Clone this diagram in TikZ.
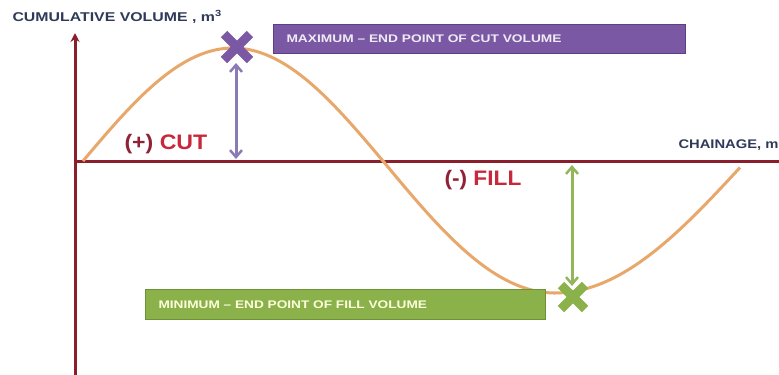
\documentclass[tikz,border=0pt]{standalone}
\usepackage{fontspec}
\setmainfont{Liberation Sans}
\usetikzlibrary{arrows.meta,calc}
\definecolor{axisred}{HTML}{8B1E2C}
\definecolor{curveor}{HTML}{E8A86C}
\definecolor{purp}{HTML}{7B58A4}
\definecolor{purpdark}{HTML}{5E3F86}
\definecolor{purparrow}{HTML}{8C7AB6}
\definecolor{grn}{HTML}{8BB14B}
\definecolor{grndark}{HTML}{6D9236}
\definecolor{grnarrow}{HTML}{92B659}
\definecolor{navy}{HTML}{2E3A58}
\definecolor{cutred}{HTML}{C8283C}
\definecolor{cutdark}{HTML}{8E2236}
\begin{document}
\begin{tikzpicture}[x=1bp,y=-1bp,
  axisline/.style={axisred,line width=3bp},
  curveline/.style={curveor,line width=3bp},
  crossmark/.style={line width=9bp},
  dblarrow/.style={line width=3bp,{Straight Barb[length=7bp,width=12bp,line width=2.5bp]}-{Straight Barb[length=7bp,width=12bp,line width=2.5bp]}},
  infobox/.style={anchor=north west,inner sep=0pt,line width=1.2bp},
  boxtext/.style={anchor=west,font=\bfseries\fontsize{10.5bp}{12bp}\selectfont},
  bigtag/.style={font=\bfseries\fontsize{21bp}{24bp}\selectfont,text=cutred},
  axlabel/.style={font=\bfseries\fontsize{12.5bp}{14bp}\selectfont,text=navy}]
\useasboundingbox (0,0) rectangle (779,374);
% axes
\coordinate (o) at (75,161);
\coordinate (ytop) at (75,33);
\coordinate (ybot) at (75,380);
\coordinate (xend) at (781,161);
\draw[axisline] (ybot) -- (o);
\draw[axisline,-{Stealth[length=9bp,width=9bp]}] (o) -- (ytop);
\draw[axisline] (o) -- (xend);
% curve
\draw[curveline] plot[domain=83:383,samples=60] (\x,{161-113*sin(0.6*(\x-83))})
  -- plot[domain=383:555,samples=40] (\x,{161+132*sin(0.5233*(\x-383))})
  -- plot[domain=555:740,samples=40] (\x,{161+132*cos(0.4712*(\x-555))});
% maximum
\coordinate (maxpt) at (237,47);
\coordinate (maxa) at (236,63);
\coordinate (maxb) at (236,159);
\draw[purp,crossmark] ($(maxpt)+(-13,-13)$) -- ($(maxpt)+(13,13)$);
\draw[purp,crossmark] ($(maxpt)+(-13,13)$) -- ($(maxpt)+(13,-13)$);
\draw[purparrow,dblarrow] (maxa) -- (maxb);
\node[infobox,fill=purp,draw=purpdark,minimum width=412bp,minimum height=29bp] (maxbox) at (273,24) {};
\node[boxtext,text=purp!12] (maxtext) at ([xshift=10bp]maxbox.west) {\scalebox{1.31}[1.05]{MAXIMUM – END POINT OF CUT VOLUME}};
% minimum
\coordinate (minpt) at (573,297);
\coordinate (mina) at (572,165);
\coordinate (minb) at (572,286);
\draw[grnarrow,dblarrow] (mina) -- (minb);
\draw[grn,crossmark] ($(minpt)+(-12,-12)$) -- ($(minpt)+(12,12)$);
\draw[grn,crossmark] ($(minpt)+(-12,12)$) -- ($(minpt)+(12,-12)$);
\node[infobox,fill=grn,draw=grndark,minimum width=400bp,minimum height=30bp] (minbox) at (145,289) {};
\node[boxtext,text=green!8!yellow!15] (mintext) at ([xshift=10bp]minbox.west) {\scalebox{1.3}[1.05]{MINIMUM – END POINT OF FILL VOLUME}};
% labels
\node[axlabel,anchor=west] (ylab) at (9,17) {\scalebox{1.27}[1.02]{CUMULATIVE VOLUME , m\textsuperscript{3}}};
\node[axlabel,anchor=west] (xlab) at (675,145) {\scalebox{1.18}[1]{CHAINAGE, m}};
\node[bigtag,anchor=west] (cut) at (121,144) {\scalebox{1.1}[1]{\textcolor{cutdark}{(+)} CUT}};
\node[bigtag,anchor=west] (fill) at (441,180) {\scalebox{1.08}[1]{\textcolor{cutdark}{(-)} FILL}};
\end{tikzpicture}
\end{document}
